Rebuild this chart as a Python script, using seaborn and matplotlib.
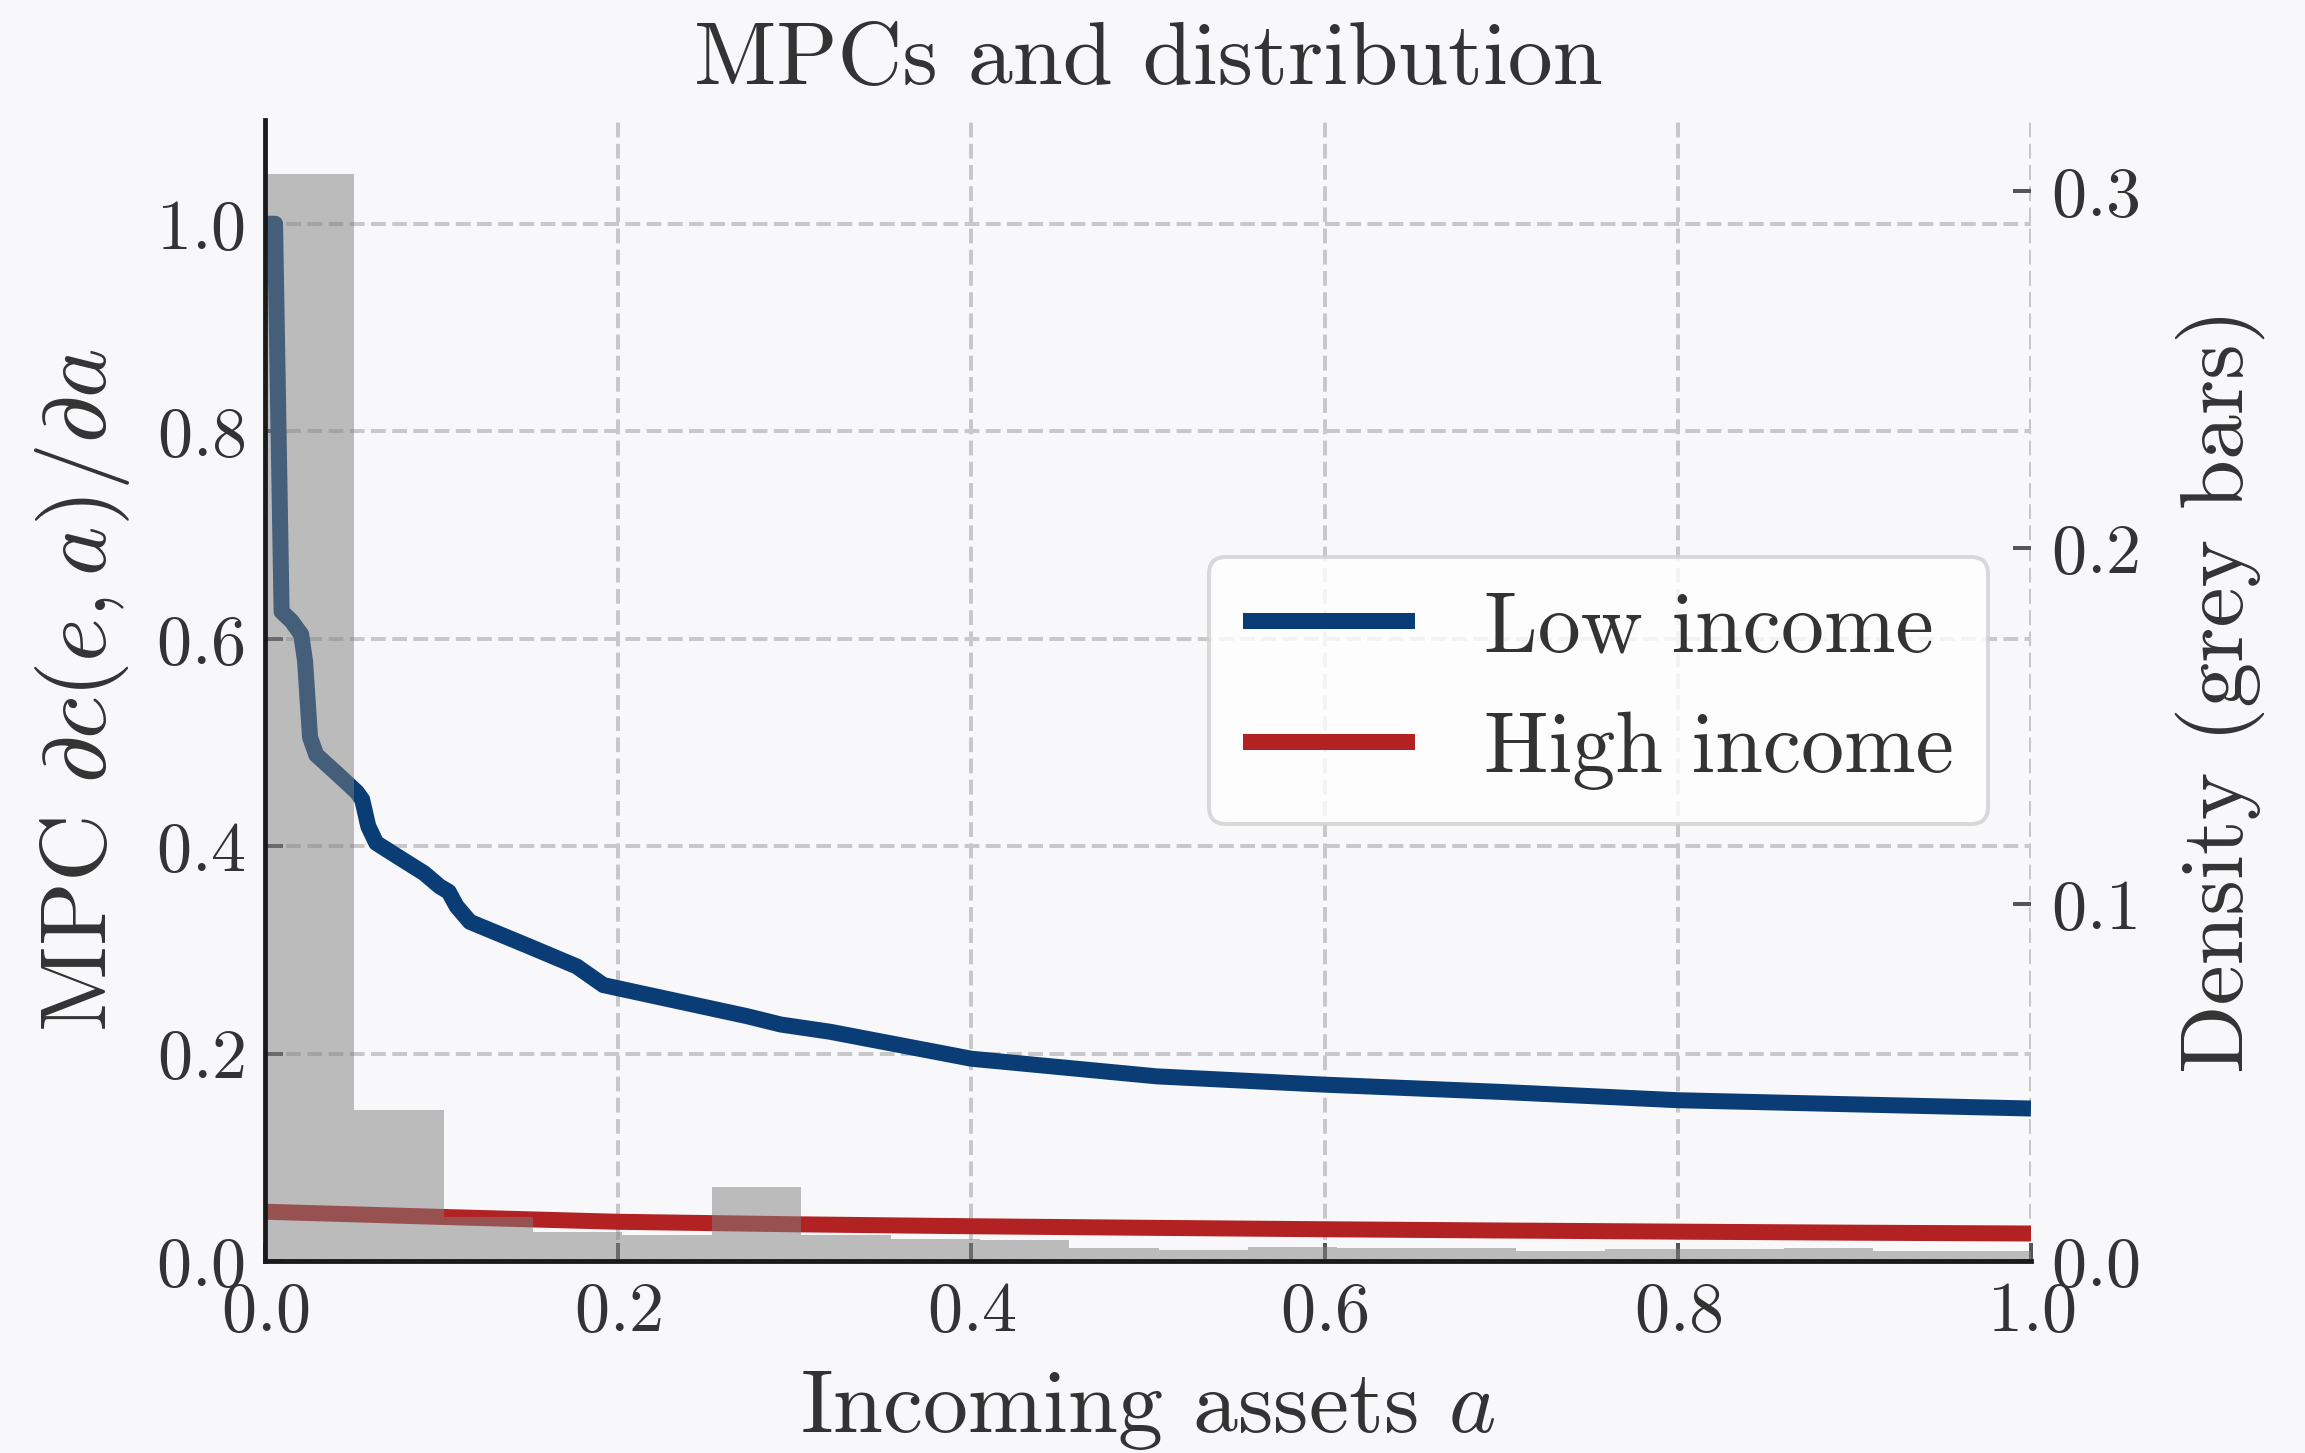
import numpy as np
import pandas as pd
import matplotlib
matplotlib.use("Agg")
import matplotlib.pyplot as plt
import seaborn as sns

# ---- data -------------------------------------------------------------
# Marginal propensity to consume along the asset grid
low_a = [0.0, 0.0057, 0.0094, 0.015, 0.0205, 0.0227, 0.0255, 0.029, 0.040,
         0.047, 0.052, 0.055, 0.0585, 0.063, 0.075, 0.090, 0.099, 0.104,
         0.1085, 0.116, 0.150, 0.1765, 0.1916, 0.216, 0.273, 0.292, 0.320,
         0.400, 0.505, 0.600, 0.700, 0.800, 0.900, 1.0]
low_mpc = [1.0, 1.0, 0.626, 0.617, 0.604, 0.578, 0.505, 0.488, 0.471,
           0.460, 0.452, 0.445, 0.419, 0.403, 0.390, 0.374, 0.361, 0.356,
           0.342, 0.327, 0.303, 0.284, 0.266, 0.257, 0.236, 0.228, 0.221,
           0.195, 0.178, 0.170, 0.163, 0.155, 0.151, 0.147]

high_a = [0.0, 0.1, 0.2, 0.3, 0.4, 0.5, 0.6, 0.7, 0.8, 0.9, 1.0]
high_mpc = [0.0475, 0.0425, 0.0378, 0.0354, 0.0335, 0.0320, 0.0306, 0.0294,
            0.0283, 0.0273, 0.0265]

# Stationary distribution over assets (histogram bins)
bin_width = 0.0506
bin_density = [0.3048, 0.0424, 0.0124, 0.0081, 0.0074, 0.0208, 0.0074,
               0.0062, 0.0059, 0.0037, 0.0031, 0.0039, 0.0037, 0.0037,
               0.0028, 0.0034, 0.0034, 0.0037, 0.0028, 0.0028]

series_labels = ["Low income", "High income"]
x_ticks = [0.0, 0.2, 0.4, 0.6, 0.8, 1.0]
y_ticks = [0.0, 0.2, 0.4, 0.6, 0.8, 1.0]
density_ticks = [0.0, 0.1, 0.2, 0.3]

# ---- style ------------------------------------------------------------
BG = "#f8f8fa"
TEXT = "#333333"
BLUE = "#0a3d75"
RED = "#b22222"
SPINE = "#1a1a1a"

sns.set_theme(style="ticks")
plt.rcParams.update({
    "font.family": "serif",
    "font.serif": ["cmr10"],
    "mathtext.fontset": "cm",
    "axes.formatter.use_mathtext": True,
    "figure.facecolor": BG,
    "axes.facecolor": BG,
    "text.color": TEXT,
    "axes.labelcolor": TEXT,
    "xtick.color": "#555555",
    "ytick.color": "#555555",
    "xtick.labelcolor": TEXT,
    "ytick.labelcolor": TEXT,
    "lines.solid_capstyle": "butt",
})

W, H, DPI = 2305, 1453, 288
fig = plt.figure(figsize=(W / DPI, H / DPI), dpi=DPI)
left, right, top, bottom = 265, 2031, 120, 1261
ax = fig.add_axes([left / W, 1 - bottom / H, (right - left) / W, (bottom - top) / H])

# MPC curves
low_df = pd.DataFrame({"a": low_a, "mpc": low_mpc})
high_df = pd.DataFrame({"a": high_a, "mpc": high_mpc})
sns.lineplot(data=low_df, x="a", y="mpc", ax=ax, color=BLUE, lw=4,
             label=series_labels[0], sort=False, estimator=None)
sns.lineplot(data=high_df, x="a", y="mpc", ax=ax, color=RED, lw=4,
             label=series_labels[1], sort=False, estimator=None)

ax.set_xlim(0, 1)
ax.set_ylim(0, 1.1)
ax.set_xticks(x_ticks)
ax.set_yticks(y_ticks)
ax.set_axisbelow(True)
ax.grid(True, linestyle="--", color="#c8c8c8", lw=1.0)
for s in ["top", "right", "left", "bottom"]:
    ax.spines[s].set_visible(False)
ax.tick_params(direction="in", length=4.5, width=1.0, labelsize=17.5, pad=5)
ax.set_xlabel(r"Incoming assets $a$", fontsize=22.5, labelpad=6)
ax.set_ylabel(r"MPC $\partial c(e,a)/\partial a$", fontsize=23.5, labelpad=6)
ax.set_title("MPCs and distribution", fontsize=22.5, pad=9)

# Asset distribution on a secondary axis
ax2 = ax.twinx()
edges = [i * bin_width for i in range(len(bin_density) + 1)]
dist_df = pd.DataFrame({"a": [e + bin_width / 2 for e in edges[:-1]],
                        "w": bin_density})
sns.histplot(data=dist_df, x="a", weights="w", bins=edges, ax=ax2,
             color="grey", alpha=0.5, linewidth=0, stat="count")
ax2.set_ylim(0, 1.05 * max(bin_density))
ax2.set_yticks(density_ticks)
ax2.set_xlim(0, 1)
# Axis frame sits above the bars
for s in ["top", "right"]:
    ax2.spines[s].set_visible(False)
for s in ["left", "bottom"]:
    ax2.spines[s].set_visible(True)
    ax2.spines[s].set_color(SPINE)
    ax2.spines[s].set_linewidth(1.2)
ax2.tick_params(axis="y", direction="in", length=4.5, width=1.0,
                labelsize=17.5, pad=5)
ax2.set_ylabel("Density (grey bars)", fontsize=22.5, labelpad=9)

leg = ax.legend(loc="center right", fontsize=21.5, frameon=True,
                fancybox=True, framealpha=0.8, facecolor="white",
                edgecolor="#d0d0d0")
leg.get_frame().set_linewidth(1.0)
for t in leg.get_texts():
    t.set_color(TEXT)

fig.savefig("out.png", dpi=DPI, facecolor=BG)
